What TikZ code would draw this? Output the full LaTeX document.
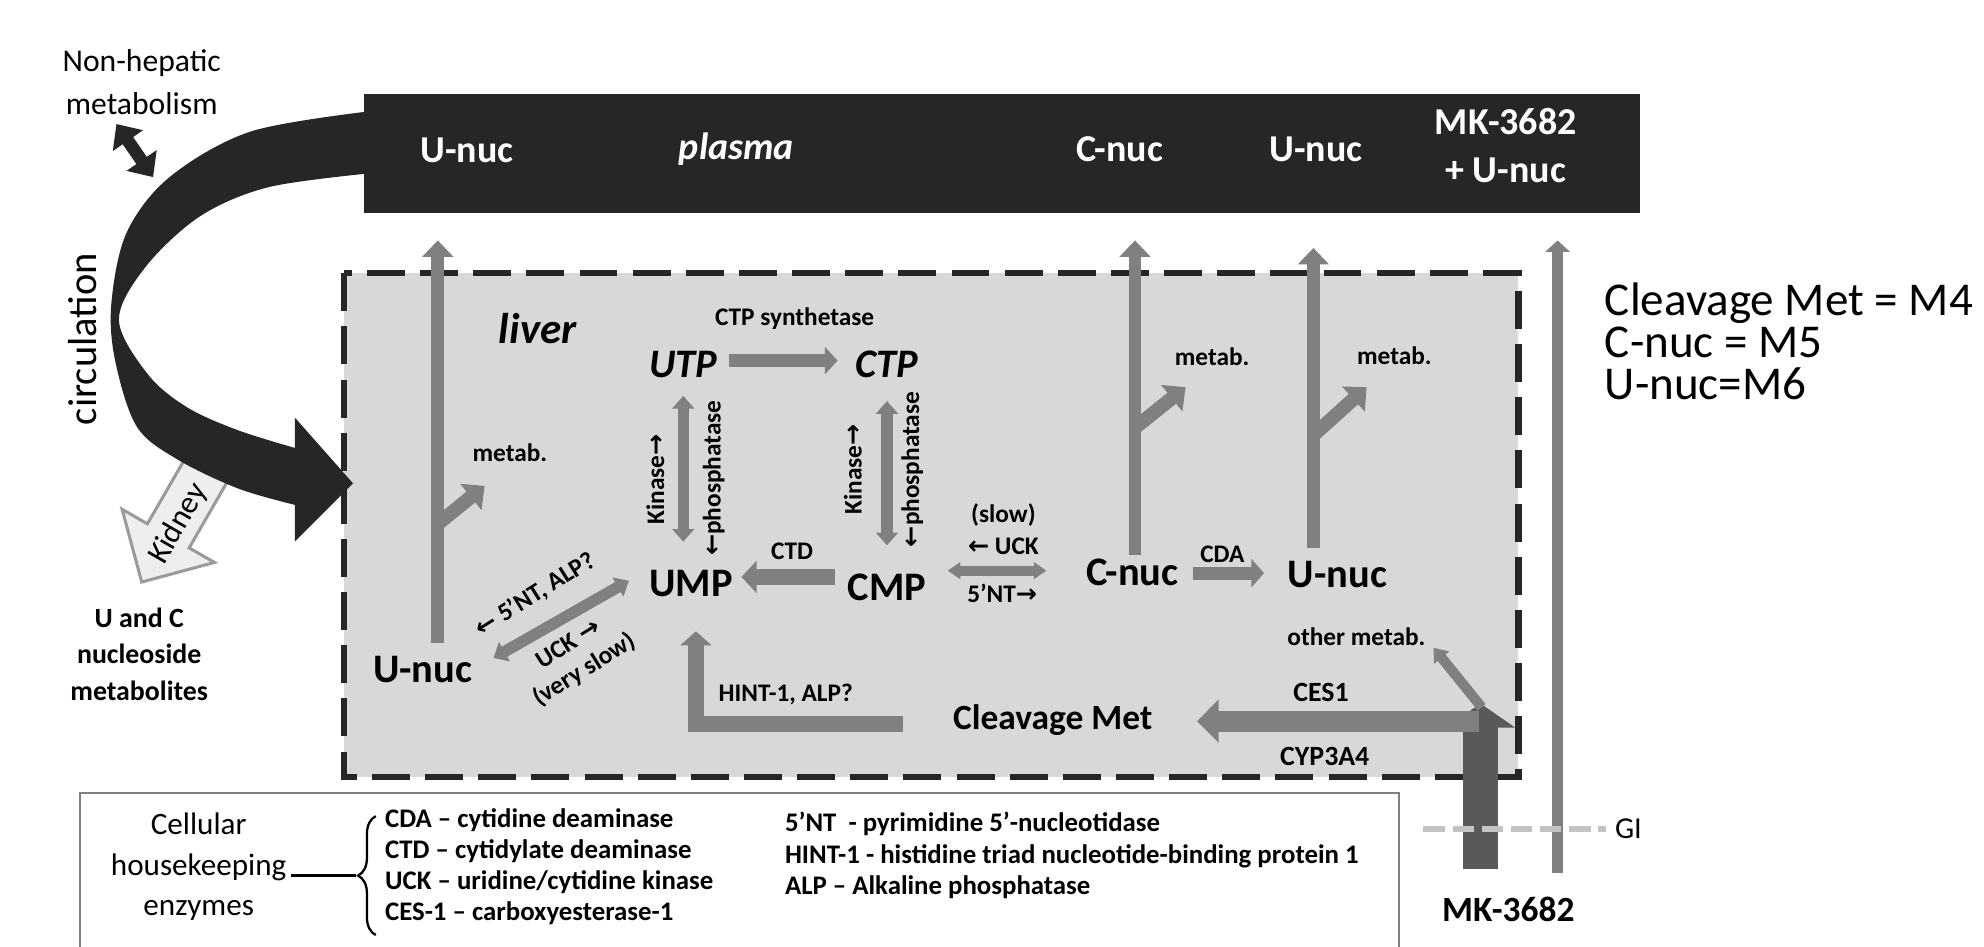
\documentclass[tikz,border=0pt]{standalone}
\usepackage{fontspec}
\setmainfont{Carlito}
\newfontfamily\arrowfont{DejaVu Sans}
\usetikzlibrary{arrows.meta}
\usetikzlibrary{decorations.pathreplacing}
\usepackage{xcolor}
\definecolor{plasmadark}{HTML}{262626}
\definecolor{liverfill}{HTML}{D8D8D8}
\definecolor{arrowgrey}{HTML}{808080}
\definecolor{mkgrey}{HTML}{595959}
\definecolor{kidneyfill}{HTML}{EEEEEE}
\definecolor{kidneyline}{HTML}{9A9A9A}
\definecolor{gidash}{HTML}{C3C3C3}
\newcommand{\rarr}{{\arrowfont →}}
\newcommand{\larr}{{\arrowfont ←}}

\begin{document}
\begin{tikzpicture}[x=0.5pt, y=-0.5pt,
		metname/.style={font=\bfseries\fontsize{16}{19}\selectfont, inner sep=1pt},
		ntpname/.style={font=\bfseries\itshape\fontsize{16}{19}\selectfont, inner sep=1pt},
		plabel/.style={text=white, font=\bfseries\fontsize{15}{19}\selectfont, align=center},
		enzlabel/.style={font=\bfseries\fontsize{10}{12}\selectfont, inner sep=1pt},
		legendtext/.style={font=\bfseries\fontsize{10.6}{12.3}\selectfont, align=left, anchor=west, inner sep=0pt},
		uparrow/.style={draw=arrowgrey, line width=5pt, -{Triangle[width=12pt,length=6.5pt]}},
		brancharrow/.style={draw=arrowgrey, line width=5.5pt, -{Triangle[width=13pt,length=7pt]}},
		fatarrow/.style={draw=arrowgrey, line width=6pt, -{Triangle[width=12.5pt,length=6pt]}},
		dblarrow/.style={draw=arrowgrey, line width=4.5pt, {Triangle[width=8.5pt,length=5pt]}-{Triangle[width=8.5pt,length=5pt]}},
		cleavarrow/.style={draw=arrowgrey, line width=8.3pt, -{Triangle[width=16.5pt,length=8.5pt]}},
		mkarrow/.style={draw=mkgrey, line width=14pt, -{Triangle[width=27pt,length=9.5pt]}},
		]
		\useasboundingbox (0,0) rectangle (1568,748);
		
		%Boxes
		\draw[fill=liverfill, draw=plasmadark, line width=2.5pt, dash pattern=on 15pt off 6pt] (272,216) rectangle (1200,614);
		\draw[draw=arrowgrey, line width=0.8pt] (63,627) rectangle (1106,760);
		
		% Kidney arrow
		\draw[fill=kidneyfill, draw=kidneyline, line width=1.2pt] (161.5,336) -- (116.5,414) -- (96.5,402.5) -- (112,460) -- (169.5,444.5) -- (149.5,433) -- (194.5,355) -- cycle;
		
		% Circulation band
		\fill[plasmadark] plot[smooth, tension=0.55] coordinates {(292,88) (198,104) (134,140) (100,184) (88,240) (91,285) (108,337) (140,363) (188,386) (233,399)}
		-- (233,428) -- (279,382) -- (233,330) -- (233,354)
		-- plot[smooth, tension=0.55] coordinates {(233,354) (188,340) (148,322) (117,296) (94,253) (115,211) (158,171) (212,148) (292,137)}
		-- cycle;
		\node[rotate=60, font=\fontsize{12.5}{15}\selectfont, inner sep=0pt] (kidney) at (141,414) {Kidney};
		
		%Left texts
		\node[font=\fontsize{12.5}{17}\selectfont, align=center] (nonhep) at (112,65) {Non-hepatic\\metabolism};
		\coordinate (nh-a) at (92,98);
		\coordinate (nh-b) at (121,140);
		\draw[draw=plasmadark, line width=5pt, {Triangle[width=14pt,length=8pt]}-{Triangle[width=14pt,length=8pt]}] (nh-a) -- (nh-b);
		\node[rotate=90, font=\fontsize{16}{19}\selectfont] (circ) at (65,268) {circulation};
		\node[font=\bfseries\fontsize{11}{14.5}\selectfont, align=center] (ucmet) at (110,517) {U and C\\nucleoside\\metabolites};
		
		% Plasma
		\fill[plasmadark] (288,74) rectangle (1296,168);
		\node[plabel] (p-unuc)  at (369,119) {U-nuc};
		\node[plabel] (plasma)  at (582,118) {\textit{plasma}};
		\node[plabel] (p-cnuc)  at (885,118) {C-nuc};
		\node[plabel] (p-unuc2) at (1040,118) {U-nuc};
		\node[plabel] (p-mk)    at (1190,115) {MK-3682\\+ U-nuc};
		
		%Nodes
		\node[font=\bfseries\itshape\fontsize{17}{20}\selectfont] (liver) at (425,260) {liver};
		\node[metname] (l-unuc) at (334,529) {U-nuc};
		\node[ntpname] (utp)    at (540,288) {UTP};
		\node[ntpname] (ctp)    at (701,288) {CTP};
		\node[metname] (ump)    at (546,461) {UMP};
		\node[metname] (cmp)    at (701,464) {CMP};
		\node[metname] (cnuc)   at (895,452) {C-nuc};
		\node[metname] (unuc)   at (1057,454) {U-nuc};
		\node[font=\bfseries\fontsize{14}{17}\selectfont] (cleav) at (832,569) {Cleavage Met};
		\node[font=\bfseries\fontsize{14}{17}\selectfont] (mk) at (1192,719) {MK-3682};
		
		\node[enzlabel] (ctps) at (628,252) {CTP synthetase};
		\node[enzlabel] (metab-l) at (403,358) {metab.};
		\node[enzlabel] (metab-c) at (958,282) {metab.};
		\node[enzlabel] (metab-u) at (1102,281) {metab.};
		\node[enzlabel, rotate=90] (kin-u)  at (518,379) {Kinase\rarr};
		\node[enzlabel, rotate=90] (phos-u) at (564,378) {\larr phosphatase};
		\node[enzlabel, rotate=90] (kin-c)  at (674,371) {Kinase\rarr};
		\node[enzlabel, rotate=90] (phos-c) at (721,371) {\larr phosphatase};
		\node[enzlabel] (ctd) at (626,436) {CTD};
		\node[enzlabel] (slow) at (793,407) {(slow)};
		\node[enzlabel] (uck) at (793,432) {\larr\ UCK};
		\node[enzlabel] (nt5) at (792,469) {5’NT\rarr};
		\node[enzlabel] (cda) at (966,438) {CDA};
		\node[enzlabel] (othermet) at (1072,503) {other metab.};
		\node[enzlabel, font=\bfseries\fontsize{11}{13}\selectfont] (ces1) at (1044,547) {CES1};
		\node[enzlabel, font=\bfseries\fontsize{11}{13}\selectfont] (cyp) at (1047,598) {CYP3A4};
		\node[enzlabel] (hint) at (621,549) {HINT-1, ALP?};
		\node[enzlabel, rotate=32] (nt5alp) at (423,470) {\larr\ 5’NT, ALP?};
		\node[enzlabel, rotate=32, align=center, font=\bfseries\fontsize{10}{12}\selectfont] (uckslow) at (456,520) {UCK \rarr\\(very slow)};
		
		%Arrow ends
		\coordinate (lunuc-tip) at (346,190);
		\coordinate (lbranch)   at (346,414);
		\coordinate (lmetab-in) at (383,384);
		\coordinate (cnuc-tip)  at (897,190);
		\coordinate (cbranch)   at (897,338);
		\coordinate (cmetab-in) at (937,306);
		\coordinate (unuc-tip)  at (1038,196);
		\coordinate (ubranch)   at (1038,344);
		\coordinate (umetab-in) at (1080,306);
		\coordinate (diag-a) at (390,520);
		\coordinate (diag-b) at (497,459);
		\coordinate (syn-a) at (576,285);
		\coordinate (syn-b) at (662,285);
		\coordinate (ctd-a) at (660,456);
		\coordinate (ctd-b) at (586,456);
		\coordinate (slow-a) at (749,451);
		\coordinate (slow-b) at (827,451);
		\coordinate (cda-a) at (943,453);
		\coordinate (cda-b) at (999,453);
		\coordinate (hint-a) at (714,572);
		\coordinate (hint-b) at (550,499);
		\coordinate (mk-foot) at (1170,687);
		\coordinate (mk-tip) at (1170,556);
		\coordinate (cleav-a) at (1169,570);
		\coordinate (cleav-b) at (946,570);
		\coordinate (om-a) at (1171,559);
		\coordinate (om-b) at (1133,512);
		\coordinate (gut-foot) at (1231,690);
		\coordinate (gut-tip) at (1231,190);
		
		%Lines
		\draw[uparrow, shorten <=4pt] (l-unuc.north -| lunuc-tip) -- (lunuc-tip);
		\draw[brancharrow] (lbranch) -- (lmetab-in);
		\draw[uparrow] (cnuc.north -| cnuc-tip) -- (cnuc-tip);
		\draw[brancharrow] (cbranch) -- (cmetab-in);
		\draw[uparrow, shorten <=4pt] (unuc.north -| unuc-tip) -- (unuc-tip);
		\draw[brancharrow] (ubranch) -- (umetab-in);
		\draw[dblarrow] (diag-a) -- (diag-b);
		\draw[draw=arrowgrey, line width=5.3pt, -{Triangle[width=10.5pt,length=5pt]}] (syn-a) -- (syn-b);
		\draw[dblarrow, shorten <=6pt, shorten >=10pt] (utp.south) -- (utp.south |- ump.north);
		\draw[dblarrow, shorten <=8pt, shorten >=10pt] (ctp.south) -- (ctp.south |- cmp.north);
		\draw[fatarrow] (ctd-a) -- (ctd-b);
		\draw[draw=arrowgrey, line width=4pt, {Triangle[width=6.5pt,length=5pt]}-{Triangle[width=6.5pt,length=5pt]}] (slow-a) -- (slow-b);
		\draw[draw=arrowgrey, line width=5pt, -{Triangle[width=11pt,length=5pt]}] (cda-a) -- (cda-b);
		\draw[draw=arrowgrey, line width=6.5pt, -{Triangle[width=12pt,length=5.5pt]}] (hint-a) -| (hint-b);
		\draw[mkarrow] (mk-foot) -- (mk-tip);
		\draw[cleavarrow] (cleav-a) -- (cleav-b);
		\draw[draw=arrowgrey, line width=4pt, -{Triangle[width=7.5pt,length=5pt]}] (om-a) -- (om-b);
		\draw[draw=arrowgrey, line width=4.5pt, -{Triangle[width=9.5pt,length=4.5pt]}] (gut-foot) -- (gut-tip);
		
		% GI
		\node[font=\fontsize{12}{14}\selectfont] (gi) at (1287,655) {GI};
		\coordinate (gi-a) at (1125,655);
		\draw[draw=gidash, line width=2.5pt, dash pattern=on 8.5pt off 3pt] (gi-a) -- (gi.west);
		
		% Right list
		\node[font=\fontsize{18.6}{16.6}\selectfont, align=left, anchor=west, inner sep=0pt] (ids) at (1268,270) {Cleavage Met = M4\\C-nuc = M5\\U-nuc=M6};
		
		% Legend
		\node[font=\fontsize{12.3}{16}\selectfont, align=center] (cellular) at (157,685) {Cellular\\housekeeping\\enzymes};
		\coordinate (brace-top) at (297,645);
		\coordinate (brace-bot) at (297,739);
		\coordinate (brace-tip) at (281,692);
		\coordinate (dash-a) at (230,692);
		\draw[decorate, decoration={brace, amplitude=7pt}, line width=0.9pt] (brace-bot) -- (brace-top);
		\draw[line width=1.5pt] (dash-a) -- (brace-tip);
		\node[legendtext] (enz1) at (304,685) {CDA – cytidine deaminase\\CTD – cytidylate deaminase\\UCK – uridine/cytidine kinase\\CES-1 – carboxyesterase-1};
		\node[legendtext] (enz2) at (620,676) {5’NT\ \ - pyrimidine 5’-nucleotidase\\HINT-1 - histidine triad nucleotide-binding protein 1\\ALP – Alkaline phosphatase};
		
	\end{tikzpicture}
\end{document}
